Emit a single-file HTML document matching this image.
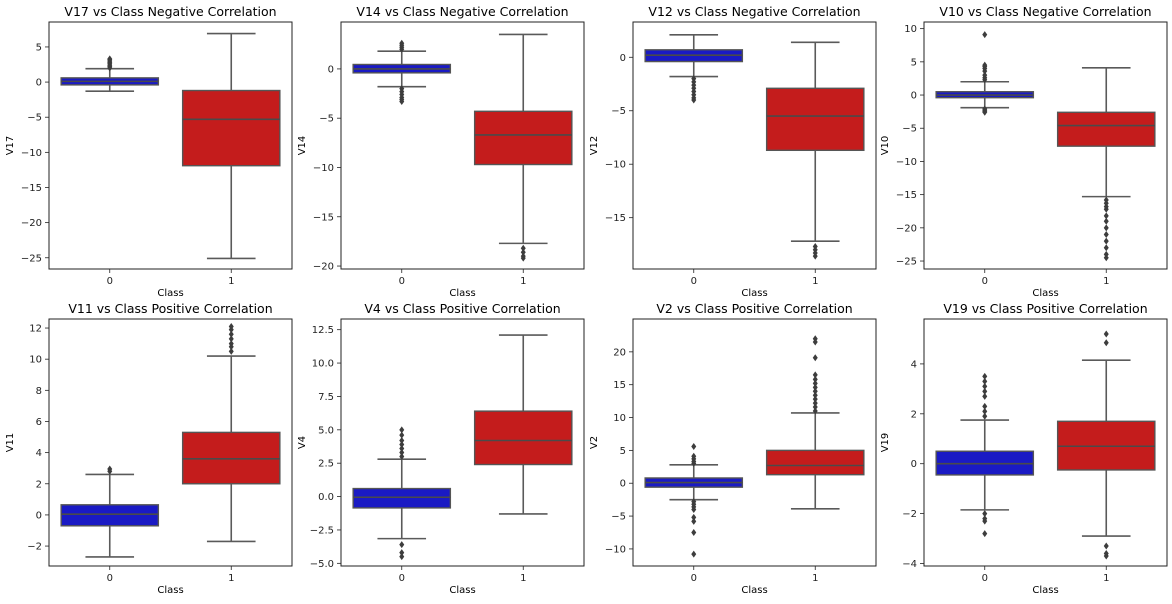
<!DOCTYPE html>
<html><head><meta charset="utf-8"><style>
html,body{margin:0;padding:0;background:#fff;}
svg{display:block;font-family:"DejaVu Sans","Liberation Sans",sans-serif;}
</style></head><body>
<svg id="fig" width="1172" height="604" viewBox="0 0 1172 604" xmlns="http://www.w3.org/2000/svg"></svg>
<script>
// ---- data ----
const categories = ["0", "1"];
const titles = ["V17 vs Class Negative Correlation","V14 vs Class Negative Correlation","V12 vs Class Negative Correlation","V10 vs Class Negative Correlation","V11 vs Class Positive Correlation","V4 vs Class Positive Correlation","V2 vs Class Positive Correlation","V19 vs Class Positive Correlation"];
const yLabels = ["V17","V14","V12","V10","V11","V4","V2","V19"];
const yDomains = [[-26.6,8.55],[-20.3,4.76],[-19.8,3.3],[-26.2,11.0],[-3.28,12.58],[-5.2,13.3],[-12.6,25.0],[-4.1,5.8]];
const yTicks = [[-25,-20,-15,-10,-5,0,5],[-20,-15,-10,-5,0],[-15,-10,-5,0],[-25,-20,-15,-10,-5,0,5,10],[-2,0,2,4,6,8,10,12],[-5.0,-2.5,0.0,2.5,5.0,7.5,10.0,12.5],[-10,-5,0,5,10,15,20],[-4,-2,0,2,4]];
const tickLabels = [["−25","−20","−15","−10","−5","0","5"],["−20","−15","−10","−5","0"],["−15","−10","−5","0"],["−25","−20","−15","−10","−5","0","5","10"],["−2","0","2","4","6","8","10","12"],["−5.0","−2.5","0.0","2.5","5.0","7.5","10.0","12.5"],["−10","−5","0","5","10","15","20"],["−4","−2","0","2","4"]];
// [whiskerLow, q1, median, q3, whiskerHigh] per class
const class0Stats = [[-1.3,-0.4,0.1,0.6,1.9],[-1.8,-0.4,0,0.45,1.8],[-1.8,-0.4,0.2,0.7,2.1],[-1.9,-0.4,0,0.5,2.0],[-2.7,-0.7,0.05,0.65,2.6],[-3.15,-0.85,-0.05,0.6,2.8],[-2.5,-0.6,0.1,0.8,2.8],[-1.85,-0.45,0,0.5,1.75]];
const class1Stats = [[-25.1,-11.9,-5.3,-1.2,6.9],[-17.7,-9.7,-6.7,-4.3,3.5],[-17.2,-8.7,-5.5,-2.9,1.4],[-15.3,-7.7,-4.6,-2.6,4.1],[-1.7,2.0,3.6,5.3,10.2],[-1.3,2.4,4.2,6.4,12.1],[-3.9,1.3,2.7,5.0,10.7],[-2.9,-0.25,0.7,1.7,4.15]];
const class0Outliers = [[2.0,2.2,2.4,2.6,2.8,3.0,3.2,3.3],[2.0,2.2,2.4,2.6,-2.0,-2.3,-2.6,-2.9,-3.1,-3.3],[-2.0,-2.3,-2.6,-2.9,-3.2,-3.5,-3.8,-4.0],[2.3,2.6,3.0,3.6,4.0,4.3,4.5,9.1,-2.1,-2.3,-2.5,-2.6],[2.8,2.95],[3.0,3.3,3.6,3.9,4.2,4.6,5.0,-3.6,-4.2,-4.5],[3.0,3.3,3.7,4.1,5.6,-2.8,-3.2,-3.6,-4.0,-5.2,-5.8,-7.5,-10.8],[1.9,2.1,2.3,2.7,2.9,3.1,3.3,3.5,-2.0,-2.2,-2.3,-2.8]];
const class1Outliers = [[],[-18.2,-18.6,-19.0,-19.2],[-17.7,-18.0,-18.3,-18.6],[-15.8,-16.3,-16.8,-17.2,-18.2,-19.0,-20.0,-21.0,-22.0,-23.0,-24.0,-24.5],[10.5,10.8,11.0,11.3,11.6,11.9,12.1],[],[11.0,11.6,12.2,12.8,13.4,14.0,14.6,15.2,15.8,16.5,19.1,21.5,22.0],[4.85,5.2,-3.3,-3.6,-3.7]];

// ---- layout ----
const NS="http://www.w3.org/2000/svg";
const svg=document.getElementById('fig');
const colX=[49,341,633,924], axW=243;
const rowY=[[22,269],[319,566]];
const fills=["#1a1ac4","#c41c1c"];
function mk(tag,attrs,parent){const e=document.createElementNS(NS,tag);for(const k in attrs)e.setAttribute(k,attrs[k]);(parent||svg).appendChild(e);return e;}
function txt(s,attrs,parent){const t=mk('text',attrs,parent);t.textContent=s;return t;}

for(let p=0;p<8;p++){
  const x0=colX[p%4], x1=x0+axW, r=rowY[Math.floor(p/4)], top=r[0], bot=r[1];
  const g=mk('g',{});
  
  
  const [dmin,dmax]=yDomains[p];
  const y=v=>bot-(v-dmin)/(dmax-dmin)*(bot-top);
  const xc=i=>x0+axW*(i+0.5)/categories.length;
  const bw=axW/categories.length*0.8;
  // title
  const t=txt(titles[p],{x:(x0+x1)/2,y:top-6,'text-anchor':'middle','font-size':12.5,fill:'#000'},g);
  
  
  // y ticks
  yTicks[p].forEach((v,k)=>{
    const yy=y(v);
    mk('line',{x1:x0-4,x2:x0,y1:yy,y2:yy,stroke:'#222','stroke-width':0.8},g);
    const tl=txt(tickLabels[p][k],{x:x0-7,y:yy+3.5,'text-anchor':'end','font-size':10,fill:'#222'},g);
    
    
  });
  const yl=txt(yLabels[p],{x:0,y:0,'text-anchor':'middle','font-size':10,fill:'#000',transform:`translate(${x0-36},${(top+bot)/2}) rotate(-90)`},g);
  
  
  // x ticks
  categories.forEach((c,i)=>{
    mk('line',{x1:xc(i),x2:xc(i),y1:bot,y2:bot+4,stroke:'#222','stroke-width':0.8},g);
    const xl=txt(c,{x:xc(i),y:bot+15,'text-anchor':'middle','font-size':10,fill:'#222'},g);
    
    
  });
  const xt=txt('Class',{x:(x0+x1)/2,y:bot+27,'text-anchor':'middle','font-size':10,fill:'#000'},g);
  
  
  // boxes
  [class0Stats[p],class1Stats[p]].forEach((s,i)=>{
    const cx=xc(i);
    const bx=mk('g',{},g);
    
    
    mk('line',{x1:cx,x2:cx,y1:y(s[0]),y2:y(s[1]),stroke:'#5a5a5a','stroke-width':1.6},bx);
    mk('line',{x1:cx,x2:cx,y1:y(s[3]),y2:y(s[4]),stroke:'#5a5a5a','stroke-width':1.6},bx);
    mk('line',{x1:cx-bw/4,x2:cx+bw/4,y1:y(s[0]),y2:y(s[0]),stroke:'#5a5a5a','stroke-width':1.6},bx);
    mk('line',{x1:cx-bw/4,x2:cx+bw/4,y1:y(s[4]),y2:y(s[4]),stroke:'#5a5a5a','stroke-width':1.6},bx);
    mk('rect',{x:cx-bw/2,y:y(s[3]),width:bw,height:Math.max(1,y(s[1])-y(s[3])),fill:fills[i],stroke:'#555','stroke-width':1.4},bx);
    mk('line',{x1:cx-bw/2,x2:cx+bw/2,y1:y(s[2]),y2:y(s[2]),stroke:'#4a4a4a','stroke-width':1.6},bx);
  });
  [class0Outliers[p],class1Outliers[p]].forEach((arr,i)=>{
    const cx=xc(i);
    arr.forEach(v=>{
      const yy=y(v);
      const d=mk('path',{d:`M${cx},${yy-3.5}L${cx+2.5},${yy}L${cx},${yy+3.5}L${cx-2.5},${yy}Z`,fill:'#3d3d3d'},g);
      
      
    });
  });
  mk('rect',{x:x0,y:top,width:axW,height:bot-top,fill:'none',stroke:'#222','stroke-width':1},g);
}
</script>
</body></html>
